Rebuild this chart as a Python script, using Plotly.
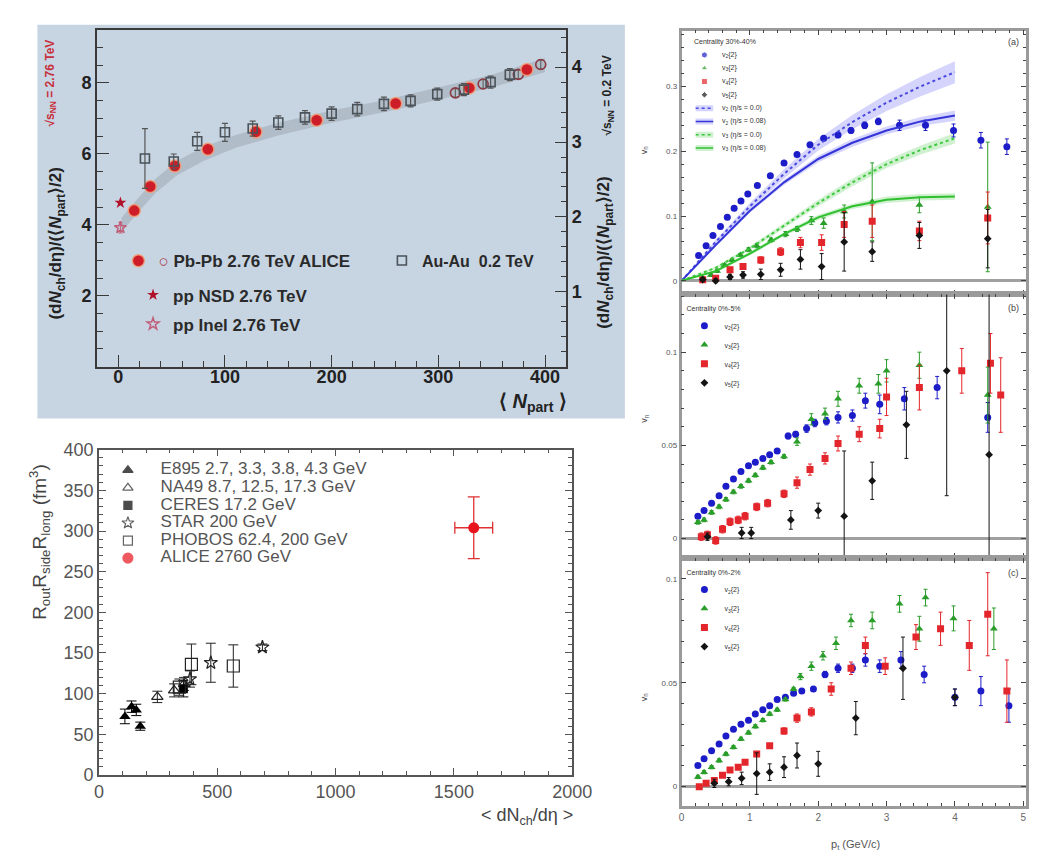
import plotly.graph_objects as go

W, H = 1038, 859
FONT = "Liberation Sans, Arial, sans-serif"

# ---------------- Panel 1 (top-left): dNch/deta per participant pair ----------------
pbpb_npart = [15, 30, 53, 84, 129, 186, 260, 329, 383]
pbpb_val = [4.40, 5.08, 5.66, 6.13, 6.62, 6.95, 7.42, 7.86, 8.38]
pbpb_err = [0.12, 0.12, 0.10, 0.10, 0.10, 0.10, 0.10, 0.10, 0.10]
pbpb_open_npart = [316, 342, 375, 396]
pbpb_open_val = [7.72, 7.97, 8.24, 8.52]
pbpb_open_err = [0.12, 0.12, 0.12, 0.12]
auau_npart = [25, 52, 74, 100, 126, 150, 175, 200, 224, 249, 274, 299, 324, 349, 367]
auau_val = [2.78, 2.74, 3.01, 3.13, 3.18, 3.26, 3.33, 3.38, 3.44, 3.51, 3.55, 3.64, 3.70, 3.80, 3.90]
auau_err = [0.40, 0.10, 0.12, 0.12, 0.10, 0.09, 0.09, 0.09, 0.09, 0.09, 0.08, 0.08, 0.08, 0.08, 0.08]
pp_nsd_npart = [2]
pp_nsd_val = [4.62]
pp_inel_npart = [2]
pp_inel_val = [3.92]
pp_inel_err = [0.15]
band_npart = [3, 10, 20, 35, 55, 80, 110, 150, 200, 250, 300, 350, 400]
band_lo = [3.80, 4.05, 4.40, 4.90, 5.40, 5.80, 6.17, 6.52, 6.88, 7.18, 7.52, 7.87, 8.30]
band_hi = [4.20, 4.45, 4.80, 5.30, 5.80, 6.20, 6.53, 6.88, 7.22, 7.52, 7.88, 8.23, 8.70]

# ---------------- Panel 2 (bottom-left): HBT volume ----------------
e895_dndeta = [110, 138, 158, 175]
e895_vol = [72, 84, 80, 60]
e895_err = [9, 7, 7, 5]
na49_dndeta = [247, 318, 360]
na49_vol = [96, 104, 112]
na49_err = [7, 8, 8]
ceres_dndeta = [357]
ceres_vol = [106]
ceres_err = [10]
star_dndeta = [385, 473, 691]
star_vol = [118, 138, 157]
star_err = [10, 24, 4]
phobos_dndeta = [340, 391, 568]
phobos_vol = [108, 136, 134]
phobos_err = [10, 25, 26]
alice_dndeta = [1584]
alice_vol = [304]
alice_xerr = [80]
alice_yerr = [38]
p2_names = ["E895 2.7, 3.3, 3.8, 4.3 GeV", "NA49 8.7, 12.5, 17.3 GeV", "CERES 17.2 GeV",
            "STAR 200 GeV", "PHOBOS 62.4, 200 GeV", "ALICE 2760 GeV"]

# ---------------- Right panels: v_n{2} vs pT ----------------
# (a) 30%-40%
a_v2_pt = [0.25, 0.36, 0.46, 0.57, 0.67, 0.77, 0.87, 0.97, 1.11, 1.30, 1.50, 1.69, 1.88, 2.08, 2.29, 2.48, 2.68, 2.88, 3.19, 3.57, 3.98, 4.38, 4.76]
a_v2 = [0.039, 0.054, 0.070, 0.084, 0.098, 0.112, 0.123, 0.134, 0.147, 0.162, 0.182, 0.195, 0.210, 0.220, 0.225, 0.232, 0.240, 0.246, 0.240, 0.240, 0.232, 0.217, 0.207]
a_v2_err = [0.002, 0.002, 0.002, 0.002, 0.002, 0.002, 0.002, 0.002, 0.002, 0.002, 0.002, 0.003, 0.003, 0.003, 0.004, 0.004, 0.005, 0.005, 0.008, 0.008, 0.010, 0.012, 0.012]
a_v3_pt = [0.31, 0.43, 0.52, 0.63, 0.74, 0.86, 0.98, 1.10, 1.31, 1.52, 1.69, 1.90, 2.08, 2.38, 2.79, 3.48, 4.48]
a_v3 = [0.004, 0.009, 0.015, 0.024, 0.032, 0.040, 0.048, 0.054, 0.063, 0.072, 0.080, 0.093, 0.089, 0.107, 0.122, 0.117, 0.114]
a_v3_err = [0.002, 0.002, 0.002, 0.002, 0.002, 0.002, 0.003, 0.003, 0.003, 0.004, 0.004, 0.006, 0.008, 0.010, 0.060, 0.012, 0.100]
a_v4_pt = [0.31, 0.50, 0.71, 0.90, 1.16, 1.45, 1.74, 2.05, 2.38, 2.79, 3.48, 4.48]
a_v4 = [0.0015, 0.004, 0.017, 0.022, 0.032, 0.045, 0.059, 0.059, 0.087, 0.092, 0.077, 0.097]
a_v4_err = [0.002, 0.003, 0.004, 0.004, 0.005, 0.006, 0.008, 0.012, 0.020, 0.025, 0.015, 0.040]
a_v5_pt = [0.31, 0.50, 0.71, 0.90, 1.16, 1.45, 1.74, 2.05, 2.38, 2.79, 3.48, 4.48]
a_v5 = [0.002, 0.000, 0.006, 0.009, 0.010, 0.017, 0.033, 0.022, 0.060, 0.045, 0.070, 0.065]
a_v5_err = [0.003, 0.003, 0.004, 0.005, 0.008, 0.010, 0.015, 0.020, 0.045, 0.015, 0.020, 0.045]
hyd_pt = [0.0, 0.5, 1.0, 1.5, 2.0, 2.5, 3.0, 3.5, 4.0]
a_v2_ideal = [0.0, 0.060, 0.115, 0.165, 0.210, 0.245, 0.275, 0.300, 0.322]
a_v2_ideal_w = [0.0, 0.003, 0.005, 0.007, 0.009, 0.011, 0.013, 0.015, 0.017]
a_v2_visc = [0.0, 0.055, 0.108, 0.152, 0.188, 0.213, 0.232, 0.246, 0.255]
a_v2_visc_w = [0.0, 0.002, 0.003, 0.004, 0.005, 0.006, 0.006, 0.007, 0.008]
a_v3_ideal = [0.0, 0.020, 0.050, 0.085, 0.120, 0.152, 0.180, 0.202, 0.220]
a_v3_ideal_w = [0.0, 0.002, 0.003, 0.004, 0.005, 0.006, 0.006, 0.007, 0.008]
a_v3_visc = [0.0, 0.015, 0.042, 0.072, 0.098, 0.115, 0.125, 0.129, 0.130]
a_v3_visc_w = [0.0, 0.002, 0.003, 0.003, 0.004, 0.004, 0.005, 0.005, 0.005]
vn_names = ["v<sub>2</sub>{2}", "v<sub>3</sub>{2}", "v<sub>4</sub>{2}", "v<sub>5</sub>{2}"]
hyd_names = ["v<sub>2</sub> (η/s = 0.0)", "v<sub>2</sub> (η/s = 0.08)",
             "v<sub>3</sub> (η/s = 0.0)", "v<sub>3</sub> (η/s = 0.08)"]

# (b) 0%-5%
b_v2_pt = [0.24, 0.33, 0.44, 0.55, 0.65, 0.76, 0.87, 0.98, 1.08, 1.19, 1.29, 1.40, 1.56, 1.67, 1.83, 1.95, 2.12, 2.29, 2.50, 2.69, 2.90, 3.26, 3.74, 4.48]
b_v2 = [0.012, 0.015, 0.019, 0.023, 0.028, 0.032, 0.036, 0.039, 0.041, 0.043, 0.045, 0.047, 0.055, 0.056, 0.059, 0.062, 0.063, 0.065, 0.066, 0.074, 0.072, 0.075, 0.081, 0.065]
b_v2_err = [0.001, 0.001, 0.001, 0.001, 0.001, 0.001, 0.001, 0.001, 0.001, 0.001, 0.001, 0.001, 0.0015, 0.0015, 0.002, 0.002, 0.002, 0.003, 0.003, 0.004, 0.005, 0.006, 0.006, 0.008]
b_v3_pt = [0.24, 0.33, 0.44, 0.55, 0.65, 0.76, 0.87, 0.98, 1.08, 1.19, 1.31, 1.50, 1.69, 1.90, 2.10, 2.29, 2.60, 2.88, 3.00, 3.48, 4.48]
b_v3 = [0.0087, 0.010, 0.014, 0.017, 0.021, 0.025, 0.028, 0.031, 0.034, 0.038, 0.041, 0.044, 0.052, 0.064, 0.067, 0.075, 0.082, 0.083, 0.090, 0.093, 0.077]
b_v3_err = [0.001, 0.001, 0.001, 0.001, 0.001, 0.001, 0.001, 0.001, 0.001, 0.001, 0.001, 0.001, 0.002, 0.003, 0.003, 0.004, 0.004, 0.005, 0.006, 0.007, 0.015]
b_v4_pt = [0.29, 0.38, 0.50, 0.60, 0.71, 0.83, 0.93, 1.10, 1.26, 1.50, 1.69, 1.88, 2.10, 2.29, 2.60, 2.90, 3.00, 3.48, 4.10, 4.52, 4.67]
b_v4 = [0.001, 0.002, -0.001, 0.005, 0.009, 0.010, 0.012, 0.017, 0.019, 0.024, 0.030, 0.037, 0.043, 0.051, 0.056, 0.059, 0.076, 0.081, 0.090, 0.094, 0.077]
b_v4_err = [0.002, 0.002, 0.002, 0.002, 0.002, 0.002, 0.002, 0.002, 0.002, 0.002, 0.003, 0.003, 0.003, 0.004, 0.004, 0.005, 0.010, 0.012, 0.012, 0.016, 0.020]
b_v5_pt = [0.38, 0.88, 1.02, 1.60, 2.00, 2.38, 2.79, 3.29, 3.88, 4.50]
b_v5 = [0.001, 0.003, 0.003, 0.010, 0.015, 0.012, 0.031, 0.061, 0.090, 0.045]
b_v5_err = [0.002, 0.003, 0.003, 0.005, 0.004, 0.035, 0.010, 0.018, 0.067, 0.140]

# (c) 0%-2%
c_v2_pt = [0.24, 0.33, 0.44, 0.55, 0.65, 0.76, 0.87, 0.98, 1.08, 1.19, 1.29, 1.40, 1.52, 1.64, 1.76, 1.93, 2.10, 2.29, 2.50, 2.69, 2.90, 3.21, 3.55, 4.00, 4.38, 4.79]
c_v2 = [0.0102, 0.0134, 0.0173, 0.0205, 0.0244, 0.0276, 0.030, 0.032, 0.035, 0.037, 0.039, 0.042, 0.043, 0.045, 0.046, 0.047, 0.054, 0.057, 0.057, 0.061, 0.058, 0.061, 0.054, 0.043, 0.046, 0.039]
c_v2_err = [0.0008, 0.0008, 0.0008, 0.0008, 0.0008, 0.0008, 0.0008, 0.0008, 0.0008, 0.0008, 0.0008, 0.0008, 0.0008, 0.0008, 0.0008, 0.0008, 0.0015, 0.002, 0.002, 0.003, 0.003, 0.004, 0.004, 0.004, 0.007, 0.008]
c_v3_pt = [0.24, 0.33, 0.44, 0.55, 0.65, 0.76, 0.87, 0.98, 1.08, 1.19, 1.29, 1.40, 1.52, 1.64, 1.74, 1.90, 2.07, 2.26, 2.48, 2.79, 3.19, 3.48, 3.57, 3.98, 4.57]
c_v3 = [0.0047, 0.007, 0.0094, 0.0126, 0.0157, 0.019, 0.023, 0.026, 0.029, 0.032, 0.035, 0.037, 0.042, 0.047, 0.053, 0.058, 0.063, 0.069, 0.080, 0.080, 0.088, 0.076, 0.091, 0.081, 0.076]
c_v3_err = [0.0008, 0.0008, 0.0008, 0.0008, 0.0008, 0.0008, 0.0008, 0.0008, 0.0008, 0.0008, 0.0008, 0.0008, 0.0008, 0.0008, 0.0015, 0.002, 0.002, 0.003, 0.003, 0.004, 0.004, 0.006, 0.004, 0.006, 0.010]
c_v4_pt = [0.26, 0.36, 0.48, 0.60, 0.71, 0.83, 0.93, 1.10, 1.29, 1.50, 1.69, 1.90, 2.19, 2.48, 2.69, 2.98, 3.43, 3.79, 4.21, 4.48, 4.76]
c_v4 = [0.0, 0.0016, 0.003, 0.0055, 0.008, 0.0094, 0.0118, 0.0157, 0.0197, 0.0268, 0.033, 0.036, 0.047, 0.057, 0.068, 0.058, 0.072, 0.076, 0.068, 0.083, 0.046]
c_v4_err = [0.001, 0.001, 0.001, 0.001, 0.001, 0.001, 0.001, 0.001, 0.001, 0.0015, 0.002, 0.002, 0.003, 0.003, 0.004, 0.004, 0.006, 0.008, 0.012, 0.020, 0.015]
c_v5_pt = [0.48, 0.69, 0.88, 1.10, 1.29, 1.50, 1.69, 2.00, 2.55, 3.24, 4.00]
c_v5 = [0.0016, 0.0024, 0.004, 0.0063, 0.007, 0.0094, 0.015, 0.011, 0.033, 0.057, 0.043]
c_v5_err = [0.002, 0.002, 0.003, 0.010, 0.004, 0.005, 0.006, 0.006, 0.008, 0.015, 0.004]


def px(v):
    return v / W


def py(v):
    return 1 - v / H


fig = go.Figure()

# ---------------- Panel 1 traces ----------------
fig.add_trace(go.Scatter(x=band_npart + band_npart[::-1], y=band_hi + band_lo[::-1], fill="toself",
                         fillcolor="rgba(150,158,168,0.45)", line=dict(width=0), mode="lines",
                         hoverinfo="skip", showlegend=False, xaxis="x", yaxis="y"))
fig.add_trace(go.Scatter(x=auau_npart, y=auau_val, mode="markers", xaxis="x", yaxis="y2",
                         name="<b>Au-Au  0.2 TeV</b>", legend="legend2", showlegend=True,
                         marker=dict(symbol="square-open", size=9, color="#4a525a", line=dict(width=1.6)),
                         error_y=dict(type="data", array=auau_err, color="#555", thickness=1.2, width=3)))
fig.add_trace(go.Scatter(x=pbpb_open_npart, y=pbpb_open_val, mode="markers", xaxis="x", yaxis="y",
                         showlegend=False,
                         marker=dict(symbol="circle-open", size=10, color="#8c3a44", line=dict(width=1.6)),
                         error_y=dict(type="data", array=pbpb_open_err, color="#666", thickness=1.2, width=3)))
fig.add_trace(go.Scatter(x=pbpb_npart, y=pbpb_val, mode="markers", xaxis="x", yaxis="y",
                         name="<span style='color:#a8404a'>○</span> Pb-Pb 2.76 TeV ALICE", legend="legend8",
                         showlegend=True,
                         marker=dict(symbol="circle", size=12, color="#cc1d28",
                                     line=dict(width=1.5, color="rgba(245,160,120,0.85)")),
                         error_y=dict(type="data", array=pbpb_err, color="#aa3030", thickness=1, width=0)))
fig.add_trace(go.Scatter(x=pp_nsd_npart, y=pp_nsd_val, mode="markers", xaxis="x", yaxis="y",
                         name="pp NSD 2.76 TeV", legend="legend3", legendgroup="nsd", showlegend=True,
                         marker=dict(symbol="star", size=9, color="#b0102a")))
fig.add_trace(go.Scatter(x=pp_inel_npart, y=pp_inel_val, mode="markers", xaxis="x", yaxis="y",
                         name="pp Inel 2.76 TeV", legend="legend3", legendgroup="inel", showlegend=True,
                         marker=dict(symbol="star-open", size=9, color="#c0607a", line=dict(width=1.5)),
                         error_y=dict(type="data", array=pp_inel_err, color="#c0607a", thickness=1, width=2)))

# ---------------- Panel 2 traces ----------------
p2 = dict(xaxis="x2", yaxis="y3", mode="markers", showlegend=False)
fig.add_trace(go.Scatter(x=e895_dndeta, y=e895_vol, name=p2_names[0],
                         marker=dict(symbol="triangle-up", size=10, color="black"),
                         error_y=dict(type="data", array=e895_err, color="black", thickness=1, width=5), **p2))
fig.add_trace(go.Scatter(x=na49_dndeta, y=na49_vol, name=p2_names[1],
                         marker=dict(symbol="triangle-up-open", size=10, color="#222", line=dict(width=1.2)),
                         error_y=dict(type="data", array=na49_err, color="#222", thickness=1, width=5), **p2))
fig.add_trace(go.Scatter(x=ceres_dndeta, y=ceres_vol, name=p2_names[2],
                         marker=dict(symbol="square", size=9, color="black"),
                         error_y=dict(type="data", array=ceres_err, color="black", thickness=1, width=5), **p2))
fig.add_trace(go.Scatter(x=star_dndeta, y=star_vol, name=p2_names[3],
                         marker=dict(symbol="star-open", size=10, color="#222", line=dict(width=1.2)),
                         error_y=dict(type="data", array=star_err, color="#222", thickness=1, width=5), **p2))
fig.add_trace(go.Scatter(x=phobos_dndeta, y=phobos_vol, name=p2_names[4],
                         marker=dict(symbol="square-open", size=12, color="#222", line=dict(width=1.2)),
                         error_y=dict(type="data", array=phobos_err, color="#222", thickness=1, width=5), **p2))
fig.add_trace(go.Scatter(x=alice_dndeta, y=alice_vol, name=p2_names[5],
                         marker=dict(symbol="circle", size=11, color="#e8141c"),
                         error_x=dict(type="data", array=alice_xerr, color="#e03030", thickness=1.3, width=6),
                         error_y=dict(type="data", array=alice_yerr, color="#e03030", thickness=1.3, width=6), **p2))

# Panel 2 key (drawn on a hidden categorical helper axis so rows sit close together)
p2_key_symbols = ["triangle-up", "triangle-up-open", "square", "star-open", "square-open", "circle"]
p2_key_colors = ["black", "#222", "black", "#222", "#222", "#e8141c"]
p2_key_sizes = [9, 9, 8, 9, 9, 10]
fig.add_trace(go.Scatter(x=["sym"] * len(p2_names), y=p2_names, mode="markers", xaxis="x6", yaxis="y7",
                         showlegend=False, hoverinfo="skip", cliponaxis=False,
                         marker=dict(symbol=p2_key_symbols, color=p2_key_colors, size=p2_key_sizes,
                                     line=dict(width=1.2, color=p2_key_colors))))
fig.add_trace(go.Scatter(x=["txt"] * len(p2_names), y=p2_names, text=p2_names, mode="text", xaxis="x6",
                         yaxis="y7", textposition="middle right", showlegend=False, hoverinfo="skip",
                         cliponaxis=False, textfont=dict(family=FONT, size=17, color="#555")))

# ---------------- Right panels ----------------
C_BLUE = "#1c1cc8"
C_GREEN = "#2a9d2a"
C_RED = "#e3262b"
C_BLACK = "#141414"
VN_SYMBOLS = ["circle", "triangle-up", "square", "diamond"]
VN_COLORS = [C_BLUE, C_GREEN, C_RED, C_BLACK]
VN_SIZES = [7, 7, 7, 6]


def add_vn(xs, ys, es, xa, ya, lg, k, showleg=True):
    fig.add_trace(go.Scatter(x=xs, y=ys, mode="markers", xaxis=xa, yaxis=ya, legend=lg, name=vn_names[k],
                             showlegend=showleg,
                             marker=dict(symbol=VN_SYMBOLS[k], size=VN_SIZES[k], color=VN_COLORS[k]),
                             error_y=dict(type="data", array=es, color=VN_COLORS[k], thickness=1, width=2)))


def add_band(xs, ys, ws, xa, ya, fillc):
    hi = [a + b for a, b in zip(ys, ws)]
    lo = [a - b for a, b in zip(ys, ws)]
    fig.add_trace(go.Scatter(x=xs + xs[::-1], y=hi + lo[::-1], fill="toself", fillcolor=fillc,
                             line=dict(width=0), mode="lines", hoverinfo="skip", showlegend=False,
                             xaxis=xa, yaxis=ya))


BAND_B = "rgba(120,120,250,0.32)"
BAND_G = "rgba(120,215,120,0.35)"
HYD_COLORS = ["#4a4ae0", "#3434d8", "#3cc83c", "#2fbf2f"]
HYD_DASH = ["dot", "solid", "dot", "solid"]
HYD_BANDS = [BAND_B, BAND_B, BAND_G, BAND_G]
hyd_vals = [a_v2_ideal, a_v2_visc, a_v3_ideal, a_v3_visc]
hyd_w = [a_v2_ideal_w, a_v2_visc_w, a_v3_ideal_w, a_v3_visc_w]
for k in range(4):
    add_band(hyd_pt, hyd_vals[k], hyd_w[k], "x3", "y4", HYD_BANDS[k])

add_vn(a_v2_pt, a_v2, a_v2_err, "x3", "y4", "legend6", 0, False)
add_vn(a_v3_pt, a_v3, a_v3_err, "x3", "y4", "legend6", 1, False)
add_vn(a_v4_pt, a_v4, a_v4_err, "x3", "y4", "legend6", 2, False)
add_vn(a_v5_pt, a_v5, a_v5_err, "x3", "y4", "legend6", 3, False)
for k in range(4):
    fig.add_trace(go.Scatter(x=hyd_pt, y=hyd_vals[k], mode="lines", xaxis="x3", yaxis="y4", showlegend=False,
                             name=hyd_names[k], line=dict(color=HYD_COLORS[k], width=2, dash=HYD_DASH[k])))

# key of panel (a) on a hidden categorical helper axis
a_key_rows = vn_names + hyd_names
fig.add_trace(go.Scatter(x=["sym"] * 4, y=vn_names, mode="markers", xaxis="x7", yaxis="y8",
                         showlegend=False, hoverinfo="skip", cliponaxis=False,
                         marker=dict(symbol=VN_SYMBOLS, color=VN_COLORS, size=[6, 6, 6, 5])))
for k in range(4):
    fig.add_trace(go.Scatter(x=["l0", "l1"], y=[hyd_names[k]] * 2, mode="lines", xaxis="x7", yaxis="y8",
                             showlegend=False, hoverinfo="skip", cliponaxis=False,
                             line=dict(color=HYD_BANDS[k], width=6)))
    fig.add_trace(go.Scatter(x=["l0", "l1"], y=[hyd_names[k]] * 2, mode="lines", xaxis="x7", yaxis="y8",
                             showlegend=False, hoverinfo="skip", cliponaxis=False,
                             line=dict(color=HYD_COLORS[k], width=1.5, dash=HYD_DASH[k])))
fig.add_trace(go.Scatter(x=["txt"] * len(a_key_rows), y=a_key_rows, text=a_key_rows, mode="text",
                         xaxis="x7", yaxis="y8", textposition="middle right", showlegend=False,
                         hoverinfo="skip", cliponaxis=False, textfont=dict(family=FONT, size=7, color="#333")))

add_vn(b_v2_pt, b_v2, b_v2_err, "x4", "y5", "legend6", 0)
add_vn(b_v3_pt, b_v3, b_v3_err, "x4", "y5", "legend6", 1)
add_vn(b_v4_pt, b_v4, b_v4_err, "x4", "y5", "legend6", 2)
add_vn(b_v5_pt, b_v5, b_v5_err, "x4", "y5", "legend6", 3)

add_vn(c_v2_pt, c_v2, c_v2_err, "x5", "y6", "legend7", 0)
add_vn(c_v3_pt, c_v3, c_v3_err, "x5", "y6", "legend7", 1)
add_vn(c_v4_pt, c_v4, c_v4_err, "x5", "y6", "legend7", 2)
add_vn(c_v5_pt, c_v5, c_v5_err, "x5", "y6", "legend7", 3)

# ---------------- Axes ----------------
P1C = "#3a3a3a"
p1font = dict(family=FONT, size=18, color="#222", weight="bold")


def p1ax(**kw):
    d = dict(showline=True, linecolor=P1C, linewidth=1.5, ticks="inside", ticklen=12, tickwidth=1.2,
             tickcolor=P1C, showgrid=False, zeroline=False, tickfont=p1font)
    d.update(kw)
    return d


P2C = "#555"
p2font = dict(family=FONT, size=18, color="#555")


def p2ax(**kw):
    d = dict(showline=True, linecolor=P2C, linewidth=1.5, ticks="inside", ticklen=7, tickwidth=1,
             tickcolor=P2C, showgrid=False, zeroline=False, mirror="allticks", tickfont=p2font)
    d.update(kw)
    return d


RC = "#9a9a9a"
rfont = dict(family=FONT, size=8, color="#555")


def rax(**kw):
    d = dict(showline=True, linecolor=RC, linewidth=2.5, ticks="inside", ticklen=5, tickwidth=1,
             tickcolor="#444", showgrid=False, mirror="allticks", tickfont=rfont)
    d.update(kw)
    return d


def keyax(cats, rng, **kw):
    d = dict(type="category", categoryorder="array", categoryarray=cats, range=rng, visible=False,
             fixedrange=True, showgrid=False, zeroline=False)
    d.update(kw)
    return d


xd_r = [px(685), 1.0]
fig.update_layout(
    width=W, height=H, margin=dict(l=0, r=0, t=0, b=0),
    paper_bgcolor="white", plot_bgcolor="rgba(0,0,0,0)",
    font=dict(family=FONT), showlegend=True,
    xaxis=p1ax(domain=[px(86), px(567)], range=[-20, 420], anchor="y", tick0=0, dtick=100, mirror=True,
               ticklabelstandoff=-7,
               minor=dict(ticks="inside", ticklen=6, dtick=20, tick0=0, tickcolor=P1C)),
    yaxis=p1ax(domain=[py(357), py(12)], range=[0, 9.5], anchor="x", tickmode="array", tickvals=[2, 4, 6, 8],
               minor=dict(ticks="inside", ticklen=6, dtick=0.5, tick0=0, tickcolor=P1C)),
    yaxis2=p1ax(overlaying="y", side="right", anchor="x", range=[0, 4.5], tickmode="array",
                tickvals=[1, 2, 3, 4],
                minor=dict(ticks="inside", ticklen=6, dtick=0.2, tick0=0, tickcolor=P1C)),
    xaxis2=p2ax(domain=[px(88), px(573)], range=[0, 2000], anchor="y3", tick0=0, dtick=500,
                minor=dict(ticks="inside", ticklen=4, dtick=100, tick0=0, tickcolor=P2C)),
    yaxis3=p2ax(domain=[py(775), py(442)], range=[0, 400], anchor="x2", tick0=0, dtick=50,
                minor=dict(ticks="inside", ticklen=4, dtick=10, tick0=0, tickcolor=P2C)),
    xaxis3=rax(domain=xd_r, range=[0, 5.04], anchor="y4", dtick=1, tick0=0, showticklabels=False, zeroline=False,
               minor=dict(ticks="inside", ticklen=3, dtick=0.2, tick0=0, tickcolor="#444")),
    yaxis4=rax(domain=[py(283), py(13)], range=[-0.021, 0.386], anchor="x3", dtick=0.1, tick0=0,
               zeroline=True, zerolinecolor="#a0a0a0", zerolinewidth=3,
               minor=dict(ticks="inside", ticklen=3, dtick=0.02, tick0=0, tickcolor="#444")),
    xaxis4=rax(domain=xd_r, range=[0, 5.04], anchor="y5", dtick=1, tick0=0, showticklabels=False, zeroline=False,
               minor=dict(ticks="inside", ticklen=3, dtick=0.2, tick0=0, tickcolor="#444")),
    yaxis5=rax(domain=[py(553), py(283)], range=[-0.0105, 0.131], anchor="x4", dtick=0.05, tick0=0,
               zeroline=True, zerolinecolor="#a0a0a0", zerolinewidth=3,
               minor=dict(ticks="inside", ticklen=3, dtick=0.01, tick0=0, tickcolor="#444")),
    xaxis5=rax(domain=xd_r, range=[0, 5.04], anchor="y6", dtick=1, tick0=0, zeroline=False,
               tickfont=dict(family=FONT, size=10, color="#666"),
               minor=dict(ticks="inside", ticklen=3, dtick=0.2, tick0=0, tickcolor="#444")),
    yaxis6=rax(domain=[py(807), py(553)], range=[-0.0094, 0.110], anchor="x5", dtick=0.05, tick0=0,
               zeroline=True, zerolinecolor="#a0a0a0", zerolinewidth=3,
               minor=dict(ticks="inside", ticklen=3, dtick=0.01, tick0=0, tickcolor="#444")),
    # helper axes for the compact keys
    xaxis6=keyax(["sym", "txt"], [-0.5, 1.5], domain=[px(101), px(168)], anchor="y7"),
    yaxis7=keyax(p2_names, [len(p2_names) - 0.5, -0.5], domain=[py(562), py(454)], anchor="x6"),
    xaxis7=keyax(["l0", "sym", "l1", "txt"], [-0.5, 3.5], domain=[px(695), px(731)], anchor="y8"),
    yaxis8=keyax(a_key_rows, [len(a_key_rows) - 0.5, -0.5], domain=[py(140), py(31)], anchor="x7"),
)

# ---------------- Legends ----------------
clear = "rgba(0,0,0,0)"
fig.update_layout(
    legend=dict(visible=False),
    legend8=dict(x=px(108), y=py(230.5), xanchor="left", yanchor="top", bgcolor=clear, visible=True,
                 font=dict(family=FONT, size=17, color="#2a2a2a", weight="bold")),
    legend2=dict(x=px(378), y=py(231), xanchor="left", yanchor="top", bgcolor=clear, visible=True,
                 font=dict(family=FONT, size=16, color="#2a2a2a", weight="bold")),
    legend3=dict(x=px(123), y=py(265.5), xanchor="left", yanchor="top", bgcolor=clear, visible=True,
                 traceorder="grouped", tracegroupgap=4,
                 font=dict(family=FONT, size=17, color="#2a2a2a", weight="bold")),
    legend6=dict(x=px(688), y=py(291), xanchor="left", yanchor="top", bgcolor=clear, visible=True,
                 title=dict(text="Centrality 0%-5%", font=dict(family=FONT, size=7, color="#333")),
                 font=dict(family=FONT, size=7, color="#333")),
    legend7=dict(x=px(688), y=py(561), xanchor="left", yanchor="top", bgcolor=clear, visible=True,
                 title=dict(text="Centrality 0%-2%", font=dict(family=FONT, size=7, color="#333")),
                 font=dict(family=FONT, size=7, color="#333")),
)

# ---------------- Background & texts ----------------
fig.add_shape(type="rect", xref="paper", yref="paper", x0=px(25), x1=px(627), y0=py(410), y1=py(7),
              fillcolor="#c7d5e3", line=dict(width=0), layer="below")

ann = []
title_p1 = "<b>(d<i>N</i><sub>ch</sub>/dη)/(⟨<i>N</i><sub>part</sub>⟩/2)</b>"


def A(text, x, y, size, color="#222", angle=0, xanchor="center"):
    ann.append(dict(text=text, x=px(x), y=py(y), xref="paper", yref="paper", showarrow=False,
                    textangle=angle, xanchor=xanchor, yanchor="middle",
                    font=dict(family=FONT, size=size, color=color)))


A(title_p1, 45, 231, 17, angle=-90)
A("<b>√s<sub>NN</sub> = 2.76 TeV</b>", 39, 67, 12, color="#c8303c", angle=-90)
A(title_p1, 607, 240, 17, angle=-90)
A("<b>√s<sub>NN</sub> = 0.2 TeV</b>", 610, 79, 12, color="#222", angle=-90)
A("<b>⟨ <i>N</i><sub>part</sub> ⟩</b>", 533, 394, 20)
A("R<sub>out</sub>R<sub>side</sub>R<sub>long</sub> (fm<sup>3</sup>)", 27, 536, 19, color="#444", angle=-90)
A("< dN<sub>ch</sub>/dη >", 576, 818, 18, color="#444", xanchor="right")
A("Centrality 30%-40%", 696, 25, 7, color="#333", xanchor="left")
A("v<sub>n</sub>", 647, 135, 9, color="#444", angle=-90)
A("v<sub>n</sub>", 647, 410, 9, color="#444", angle=-90)
A("v<sub>n</sub>", 647, 695, 9, color="#444", angle=-90)
A("(a)", 1025, 25, 9, color="#444")
A("(b)", 1025, 297, 9, color="#444")
A("(c)", 1025, 568, 9, color="#444")
A("p<sub>t</sub> (GeV/c)", 863, 847, 11, color="#555")
fig.update_layout(annotations=ann)

fig.write_html("out.html")
